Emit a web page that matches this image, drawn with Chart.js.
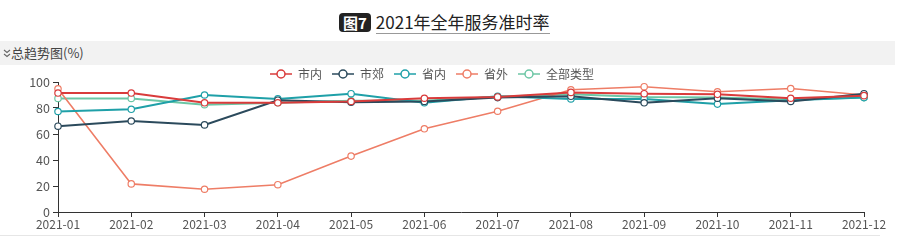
<!DOCTYPE html>
<html>
<head>
<meta charset="utf-8">
<script src="https://cdn.jsdelivr.net/npm/chart.js@4.4.1/dist/chart.umd.min.js"></script>
<style>
  body { margin: 0; width: 902px; height: 246px; background: #fff; position: relative; overflow: hidden;
         font-family: "Noto Sans CJK SC", "Noto Sans", sans-serif; }
  #titulo { position: absolute; left: 339px; top: 11px; height: 24px; white-space: nowrap; }
  #titulo .tag { display: inline-block; background: #222; color: #fff; font-weight: bold; font-size: 15px;
                 line-height: 19px; padding: 0 4px; border-radius: 4px; vertical-align: top; margin-top: 2px; }
  #titulo .txt { display: inline-block; font-size: 17px; line-height: 22px; color: #222; margin-left: 5px;
                 border-bottom: 1px solid #999; padding-bottom: 0; vertical-align: top; }
  #barra { position: absolute; left: 0; top: 41px; width: 895px; height: 24px; background: #f2f2f2; }
  #barra svg { position: absolute; left: 3px; top: 8px; }
  #barra span { position: absolute; left: 11px; top: 3px; font-size: 13px; color: #444; line-height: 18px; }
  #linea { position: absolute; left: 0; top: 235px; width: 880px; height: 1px; background: #e6e6e6; }
  #wrap { position: absolute; left: 0; top: 58px; width: 902px; height: 180px; }
</style>
</head>
<body>
<div id="titulo"><span class="tag">图7</span><span class="txt">2021年全年服务准时率</span></div>
<div id="barra">
  <svg width="8" height="9" viewBox="0 0 8 9"><path d="M1 1 L4 3.5 L7 1 M1 5 L4 7.5 L7 5" stroke="#666" stroke-width="1.1" fill="none"/></svg>
  <span>总趋势图(%)</span>
</div>
<div id="linea"></div>
<div id="wrap"><canvas id="grafica"></canvas></div>
<script>
// Datos
const meses = ['2021-01', '2021-02', '2021-03', '2021-04', '2021-05', '2021-06',
               '2021-07', '2021-08', '2021-09', '2021-10', '2021-11', '2021-12'];
const shiNei   = [91.5, 91.5, 84, 84, 85, 87.5, 88.5, 92, 91, 90.5, 87.5, 89.5];
const shiJiao  = [66, 70, 67, 86, 84.5, 85, 88, 89, 84, 87.5, 85, 91];
const shengNei = [77.3, 79, 90, 87, 91, 84, 89, 87, 87, 83, 86, 88];
const shengWai = [94.8, 21.6, 17.5, 21, 43, 64, 77.5, 94, 96.4, 92.5, 95, 90];
const todos    = [87.4, 87.4, 82.5, 84, 85.5, 85.5, 88.7, 90.5, 88.5, 88, 86.5, 88];
const nombres = ['市内', '市郊', '省内', '省外', '全部类型'];
const colores = ['#d93b3b', '#2b4a5c', '#1fa0a8', '#ee7d66', '#6cc6a5'];
const ticksY = [0, 20, 40, 60, 80, 100];

// icono de leyenda: linea con circulo hueco
function iconoLeyenda(color) {
    const c = document.createElement('canvas');
    c.width = 22;
    c.height = 10;
    const g = c.getContext('2d');
    g.strokeStyle = color;
    g.lineWidth = 1.5;
    g.beginPath();
    g.moveTo(0, 5);
    g.lineTo(22, 5);
    g.stroke();
    g.beginPath();
    g.arc(11, 5, 4, 0, Math.PI * 2);
    g.fillStyle = '#fff';
    g.fill();
    g.stroke();
    return c;
}

const series = [shiNei, shiJiao, shengNei, shengWai, todos];
const datasets = series.map((valores, i) => ({
    label: nombres[i],
    data: valores,
    borderColor: colores[i],
    backgroundColor: '#fff',
    borderWidth: i === 3 ? 1.6 : 2,
    pointRadius: 3.2,
    pointBorderWidth: 1.2,
    pointBackgroundColor: '#fff',
    pointBorderColor: colores[i],
    tension: 0,
    fill: false
}));

const ajusteLeyenda = {
    id: 'ajusteLeyenda',
    beforeInit(chart) {
        const fitOriginal = chart.legend.fit;
        chart.legend.fit = function () {
            fitOriginal.call(this);
            this.height -= 8;
        };
    }
};

const ctx = document.getElementById('grafica').getContext('2d');
new Chart(ctx, {
    type: 'line',
    data: { labels: meses, datasets: datasets },
    plugins: [ajusteLeyenda],
    options: {
        responsive: true,
        maintainAspectRatio: false,
        animation: false,
        layout: { padding: { left: 0, right: 38, top: 0, bottom: 0 } },
        plugins: {
            tooltip: { enabled: false },
            legend: {
                display: true,
                position: 'top',
                labels: {
                    usePointStyle: true,
                    pointStyleWidth: 22,
                    padding: 10,
                    color: '#555',
                    font: { family: '"Noto Sans CJK SC", sans-serif', size: 12 },
                    generateLabels: (chart) => chart.data.datasets.map((d, i) => ({
                        text: d.label,
                        fillStyle: d.borderColor,
                        strokeStyle: d.borderColor,
                        fontColor: '#555',
                        pointStyle: iconoLeyenda(d.borderColor),
                        datasetIndex: i,
                        hidden: false
                    }))
                }
            }
        },
        scales: {
            x: {
                offset: false,
                afterFit: (scale) => { scale.height = 26; },
                grid: { drawOnChartArea: false, drawTicks: true, tickLength: 5, color: '#333' },
                border: { display: true, color: '#333', width: 1 },
                ticks: {
                    color: '#555',
                    padding: 0,
                    maxRotation: 0,
                    autoSkip: false,
                    font: { family: '"Noto Sans CJK SC", sans-serif', size: 12 }
                }
            },
            y: {
                min: 0,
                max: 100,
                afterFit: (scale) => { scale.width = 58; },
                afterBuildTicks: (scale) => { scale.ticks = ticksY.map(v => ({ value: v })); },
                grid: { drawOnChartArea: false, drawTicks: true, tickLength: 5, color: '#333' },
                border: { display: true, color: '#333', width: 1 },
                ticks: {
                    color: '#555',
                    padding: 3,
                    font: { family: '"Noto Sans CJK SC", sans-serif', size: 12.5 }
                }
            }
        }
    }
});
</script>
</body>
</html>
